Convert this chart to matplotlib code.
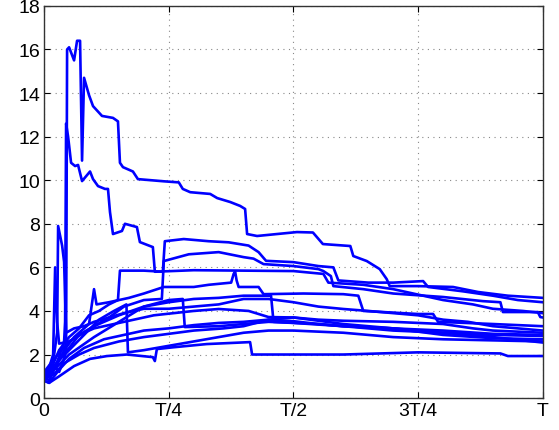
"""Sample paths of many step-like series between 0 and T."""

import matplotlib
matplotlib.use("Agg")
import matplotlib.pyplot as plt

# x values are fractions of T
l1_x = [0, 0.01, 0.02, 0.03, 0.04, 0.044, 0.046, 0.05, 0.06, 0.066, 0.072, 0.076, 0.08, 0.09,
        0.098, 0.116, 0.138, 0.148, 0.152, 0.158, 0.178, 0.188, 0.24, 0.27, 0.278, 0.293,
        0.333, 0.347, 0.373, 0.393, 0.403, 0.407, 0.427, 0.467, 0.507, 0.539, 0.559, 0.614,
        0.62, 0.647, 0.673, 0.687, 0.693, 0.75, 0.82, 0.87, 0.93, 1.0]
l1_y = [0.9, 1.1, 1.5, 1.2, 1.8, 2.2, 16.0, 16.1, 15.5, 16.4, 16.4, 10.9, 14.7, 13.9,
        13.4, 12.95, 12.86, 12.7, 10.8, 10.6, 10.4, 10.05, 9.95, 9.9, 9.6, 9.45,
        9.37, 9.18, 9.0, 8.82, 8.68, 7.53, 7.44, 7.53, 7.62, 7.6, 7.07, 6.98,
        6.52, 6.29, 5.92, 5.46, 5.14, 5.14, 5.1, 4.87, 4.7, 4.6]

l2_x = [0, 0.01, 0.02, 0.03, 0.04, 0.042, 0.044, 0.048, 0.054, 0.062, 0.068, 0.076, 0.092,
        0.098, 0.108, 0.122, 0.128, 0.132, 0.138, 0.156, 0.162, 0.186, 0.192, 0.218, 0.222,
        0.3, 0.4, 0.5, 0.56, 0.57, 0.64, 0.7, 0.76, 0.8, 0.86, 0.9, 0.96, 1.0]
l2_y = [1.0, 0.8, 1.3, 1.9, 2.6, 3.5, 12.6, 12.0, 10.8, 10.65, 10.7, 9.96, 10.4,
        10.05, 9.73, 9.6, 9.6, 8.54, 7.53, 7.67, 8.0, 7.85, 7.16, 6.93, 5.8,
        5.87, 5.85, 5.83, 5.7, 5.3, 5.2, 5.0, 4.7, 4.5, 4.3, 4.1, 4.0, 3.9]

l3_x = [0, 0.015, 0.03, 0.05, 0.07, 0.09, 0.11, 0.13, 0.148, 0.152, 0.2, 0.238, 0.242, 0.28,
        0.33, 0.37, 0.41, 0.43, 0.445, 0.5, 0.55, 0.58, 0.59, 0.65, 0.7, 0.76, 0.77, 0.84,
        0.9, 0.95, 1.0]
l3_y = [1.1, 1.4, 2.2, 2.8, 3.2, 3.8, 4.0, 4.3, 4.5, 5.85, 5.85, 5.8, 7.2, 7.3,
        7.2, 7.15, 7.0, 6.7, 6.3, 6.24, 6.06, 6.0, 5.4, 5.3, 5.3, 5.37, 5.1, 4.9,
        4.7, 4.5, 4.4]

l4_x = [0, 0.015, 0.03, 0.05, 0.07, 0.1, 0.13, 0.16, 0.2, 0.236, 0.24, 0.29, 0.35, 0.4,
        0.42, 0.44, 0.5, 0.55, 0.56, 0.575, 0.58, 0.64, 0.7, 0.8, 0.88, 0.915, 0.92, 0.99,
        0.995, 1.0]
l4_y = [0.9, 1.2, 1.8, 2.3, 2.9, 3.3, 3.7, 4.2, 4.5, 4.55, 6.29, 6.6, 6.7, 6.47,
        6.4, 6.15, 6.06, 5.92, 5.83, 5.6, 5.14, 5.0, 4.8, 4.64, 4.45, 4.4, 3.95, 3.95,
        3.72, 3.7]

l5_x = [0, 0.01, 0.025, 0.04, 0.06, 0.09, 0.1, 0.105, 0.13, 0.17, 0.2, 0.24, 0.3, 0.33,
        0.375, 0.38, 0.383, 0.386, 0.39, 0.43, 0.44, 0.52, 0.6, 0.63, 0.64, 0.75, 0.78,
        0.79, 0.9, 1.0]
l5_y = [0.8, 1.0, 1.5, 2.2, 2.8, 3.4, 5.0, 4.3, 4.4, 4.6, 4.8, 5.1, 5.1, 5.2,
        5.3, 5.7, 5.8, 5.4, 5.1, 5.1, 4.77, 4.8, 4.77, 4.7, 4.0, 3.86, 3.86,
        3.5, 3.4, 3.3]

l6_x = [0, 0.01, 0.02, 0.026, 0.028, 0.036, 0.04, 0.044, 0.06, 0.08, 0.1, 0.13, 0.16, 0.2,
        0.25, 0.3, 0.35, 0.4, 0.45, 0.5, 0.55, 0.6, 0.65, 0.7, 0.75, 0.8, 0.85, 0.9, 1.0]
l6_y = [1.0, 1.3, 2.0, 3.0, 7.9, 7.0, 6.25, 3.0, 3.2, 3.3, 3.5, 3.7, 3.9, 4.1,
        4.1, 4.2, 4.3, 4.55, 4.55, 4.4, 4.2, 4.09, 4.0, 3.9, 3.8, 3.6, 3.5, 3.3, 3.1]

l7_x = [0, 0.01, 0.018, 0.022, 0.026, 0.03, 0.05, 0.08, 0.1, 0.14, 0.18, 0.22, 0.26, 0.3,
        0.35, 0.41, 0.45, 0.5, 0.55, 0.6, 0.7, 0.8, 0.86, 0.9, 1.0]
l7_y = [1.0, 1.4, 2.0, 6.0, 3.5, 2.5, 2.6, 3.0, 3.2, 3.4, 3.6, 3.8, 3.9, 4.0,
        4.09, 4.0, 3.72, 3.7, 3.6, 3.55, 3.5, 3.4, 3.2, 3.1, 3.0]

l8_x = [0, 0.01, 0.03, 0.05, 0.08, 0.12, 0.16, 0.2, 0.25, 0.3, 0.35, 0.4, 0.45, 0.5, 0.55,
        0.6, 0.65, 0.7, 0.8, 0.9, 1.0]
l8_y = [0.8, 0.7, 1.3, 1.8, 2.3, 2.7, 2.9, 3.1, 3.2, 3.35, 3.45, 3.5, 3.6, 3.53, 3.4,
        3.3, 3.2, 3.1, 3.0, 2.9, 2.85]

l9_x = [0, 0.02, 0.04, 0.07, 0.1, 0.15, 0.2, 0.25, 0.3, 0.36, 0.4, 0.45, 0.5, 0.6, 0.7,
        0.8, 0.9, 1.0]
l9_y = [0.9, 1.1, 1.6, 2.0, 2.3, 2.6, 2.8, 2.95, 3.1, 3.2, 3.3, 3.6, 3.7, 3.4, 3.2,
        2.9, 2.75, 2.7]

l10_x = [0, 0.02, 0.05, 0.08, 0.11, 0.14, 0.165, 0.168, 0.2, 0.25, 0.3, 0.35, 0.4, 0.45,
         0.5, 0.6, 0.7, 0.8, 0.9, 1.0]
l10_y = [1.0, 1.5, 2.2, 2.9, 3.6, 4.0, 4.3, 2.1, 2.2, 2.4, 2.6, 2.8, 3.0, 3.1,
         3.1, 3.0, 2.8, 2.7, 2.65, 2.6]

l11_x = [0, 0.02, 0.05, 0.1, 0.15, 0.2, 0.25, 0.278, 0.282, 0.35, 0.4, 0.45, 0.5, 0.6,
         0.7, 0.8, 0.9, 1.0]
l11_y = [0.9, 1.3, 2.0, 2.8, 3.5, 4.2, 4.5, 4.55, 3.26, 3.3, 3.4, 3.5, 3.45, 3.3,
         3.2, 3.1, 2.95, 2.9]

l12_x = [0, 0.02, 0.05, 0.1, 0.15, 0.2, 0.25, 0.3, 0.35, 0.4, 0.455, 0.46, 0.55, 0.6, 0.7,
         0.8, 0.9, 1.0]
l12_y = [1.2, 1.8, 2.6, 3.3, 3.8, 4.2, 4.4, 4.55, 4.6, 4.7, 4.7, 3.5, 3.4, 3.3, 3.2,
         3.0, 2.8, 2.55]

l13_x = [0, 0.01, 0.03, 0.06, 0.092, 0.126, 0.166, 0.218, 0.222, 0.226, 0.258, 0.326, 0.413,
         0.417, 0.6, 0.75, 0.915, 0.93, 1.0]
l13_y = [0.8, 0.7, 1.0, 1.47, 1.8, 1.93, 2.0, 1.88, 1.7, 2.25, 2.33, 2.48, 2.57,
         2.0, 2.0, 2.1, 2.05, 1.93, 1.93]

paths = [(l1_x, l1_y), (l2_x, l2_y), (l3_x, l3_y), (l4_x, l4_y), (l5_x, l5_y),
         (l6_x, l6_y), (l7_x, l7_y), (l8_x, l8_y), (l9_x, l9_y), (l10_x, l10_y),
         (l11_x, l11_y), (l12_x, l12_y), (l13_x, l13_y)]

x_ticks = [0, 0.25, 0.5, 0.75, 1.0]
x_tick_labels = ["0", "T/4", "T/2", "3T/4", "T"]
y_ticks = list(range(0, 19, 2))

plt.rcParams["font.family"] = ["Liberation Sans", "DejaVu Sans"]

fig = plt.figure(figsize=(5.59, 4.31), dpi=100)
ax = fig.add_axes([0.079, 0.074, 0.892, 0.91])

for xs, ys in paths:
    ax.plot(xs, ys, color="#0000ff", linewidth=1.9, solid_joinstyle="round")

ax.set_xlim(0, 1)
ax.set_ylim(0, 18)
ax.set_xticks(x_ticks)
ax.set_xticklabels(x_tick_labels)
ax.set_yticks(y_ticks)
ax.tick_params(direction="in", top=True, right=True, length=4, labelsize=14, pad=3)
ax.grid(True, linestyle=(0, (1, 4)), color="#888888", linewidth=0.8)
for spine in ax.spines.values():
    spine.set_linewidth(1.0)
    spine.set_color("#333333")

fig.savefig("out.png", dpi=100)
